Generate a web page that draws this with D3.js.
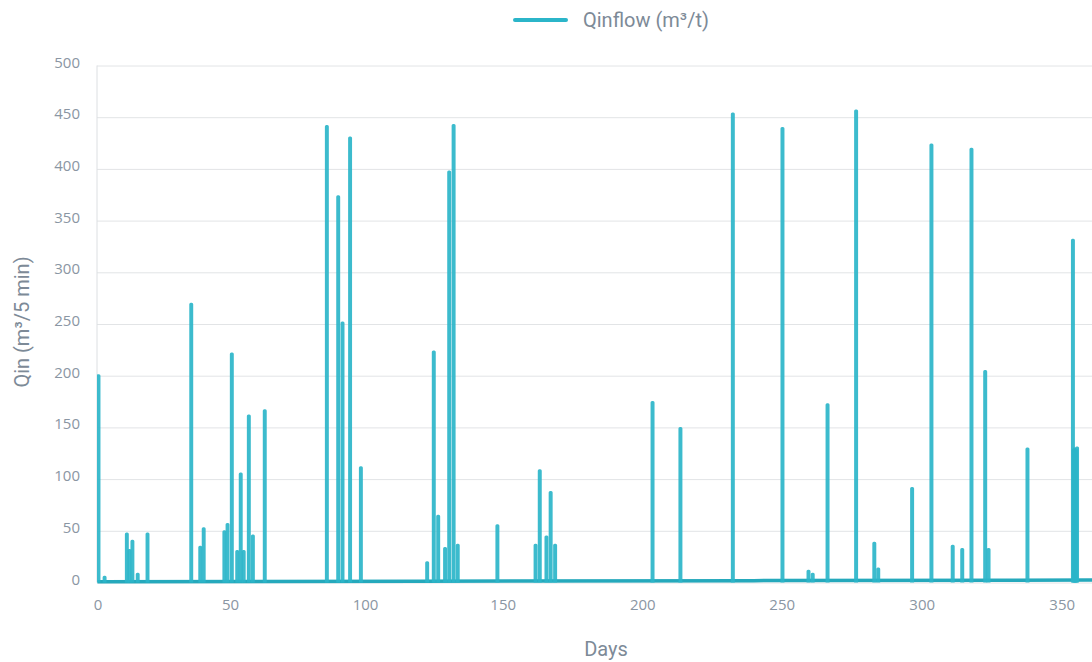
<!DOCTYPE html>
<html>
<head>
<meta charset="utf-8">
<script src="https://cdn.jsdelivr.net/npm/d3@7"></script>
<style>
  body { margin: 0; background: #fff; }
  .tick text { font-family: "Open Sans", sans-serif; font-size: 15px; fill: #8a96a3; }
  .title { font-family: Roboto, sans-serif; font-size: 20px; fill: #7d8a97; }
</style>
</head>
<body>
<div id="chart"></div>
<script>
// Qinflow spikes: day and peak (m3 / 5 min)
const spikeDays = [
  0.2, 2.5, 10.9, 11.9, 13.0, 15.0, 18.7, 35.2, 38.6, 39.9, 47.7, 48.9,
  50.5, 52.5, 53.8, 54.9, 56.8, 58.3, 62.7, 85.7, 89.9, 91.5, 94.3, 98.3,
  122.4, 124.8, 126.4, 128.9, 130.4, 132.0, 133.5, 147.9,
  161.6, 163.1, 165.5, 167.0, 168.6, 203.5, 213.5, 232.3,
  250.1, 259.4, 260.9, 266.2, 276.4, 282.9, 284.3, 296.4,
  303.3, 310.9, 314.3, 317.6, 322.5, 323.7, 337.6,
  353.9, 354.2, 354.5, 354.8, 355.1, 355.4
]
const spikePeaks = [
  200, 5, 47, 31, 40, 8, 47, 269, 34, 52, 49, 56,
  221, 30, 105, 30, 161, 45, 166, 441, 373, 251, 430, 111,
  19, 223, 64, 33, 397, 442, 36, 55,
  36, 108, 44, 87, 36, 174, 149, 453,
  439, 11, 8, 172, 456, 38, 13, 91,
  423, 35, 32, 419, 204, 32, 129,
  331, 128, 129, 127, 128, 130
]
// slowly rising base flow
const baseDays = [0, 120, 240, 361]
const baseLevels = [0.8, 1.2, 1.8, 2.4]

const dayTicks = [0, 50, 100, 150, 200, 250, 300, 350]
const qinTicks = [0, 50, 100, 150, 200, 250, 300, 350, 400, 450, 500]

const width = 1092
const height = 662
const plotLeft = 97
const plotTop = 65.5
const plotBottom = 582.5
const color = '#2bb5c9'

const svg = d3.select('#chart')
  .append('svg')
  .attr('width', width)
  .attr('height', height)

// day axis is not evenly spaced in the source, so pin the tick positions
const xScale = d3.scaleLinear()
  .domain([0, 50, 100, 150, 200, 250, 300, 350, 361])
  .range([97.5, 230, 365, 502.7, 642.3, 781.7, 921.7, 1061.7, 1092])
const yScale = d3.scaleLinear()
  .domain([0, 500])
  .range([plotBottom, plotTop])

// Grid
svg.append('g')
  .attr('transform', `translate(${plotLeft}, 0)`)
  .call(d3.axisLeft(yScale).tickValues(qinTicks).tickSize(-(width - plotLeft)).tickFormat(''))
  .call(g => g.select('.domain').remove())
  .call(g => g.selectAll('line').attr('stroke', '#e2e4e6'))
svg.append('line')
  .attr('x1', plotLeft).attr('x2', plotLeft)
  .attr('y1', plotTop).attr('y2', plotBottom)
  .attr('stroke', '#dcdfe2')

// Axes
svg.append('g')
  .attr('transform', `translate(${plotLeft}, 0)`)
  .call(d3.axisLeft(yScale).tickValues(qinTicks).tickSize(0).tickPadding(17))
  .call(g => g.select('.domain').remove())
  .call(g => g.selectAll('text').attr('dy', '0.1em'))
svg.append('g')
  .attr('transform', `translate(0, ${plotBottom})`)
  .call(d3.axisBottom(xScale).tickValues(dayTicks).tickSize(0).tickPadding(17))
  .call(g => g.select('.domain').remove())

// Lines
svg.append('clipPath').attr('id', 'plot')
  .append('rect')
  .attr('x', plotLeft).attr('y', 0)
  .attr('width', width - plotLeft).attr('height', plotBottom + 3)

const line = d3.line()
  .x(d => xScale(d[0]))
  .y(d => yScale(d[1]))

const plot = svg.append('g').attr('clip-path', 'url(#plot)')

plot.append('path')
  .datum(baseDays.map((d, i) => [d, baseLevels[i]]))
  .attr('d', line)
  .attr('fill', 'none')
  .attr('stroke', '#25a9bc')
  .attr('stroke-width', 3.5)

plot.selectAll('.spike')
  .data(spikeDays.map((d, i) => [d, spikePeaks[i]]))
  .enter()
  .append('path')
  .attr('class', 'spike')
  .attr('d', s => line([[s[0], 0], [s[0], s[1]], [s[0] + 0.35, s[1]], [s[0] + 0.35, 0]]))
  .attr('fill', 'none')
  .attr('stroke', color)
  .attr('stroke-opacity', 0.92)
  .attr('stroke-width', 3)
  .attr('stroke-linejoin', 'round')

// Titles
svg.append('text')
  .attr('class', 'title')
  .attr('x', 606).attr('y', 656)
  .attr('text-anchor', 'middle')
  .text('Days')
svg.append('text')
  .attr('class', 'title')
  .attr('transform', 'translate(29, 322) rotate(-90)')
  .attr('text-anchor', 'middle')
  .text('Qin (m³/5 min)')

// Legend
svg.append('line')
  .attr('x1', 515).attr('x2', 566)
  .attr('y1', 20).attr('y2', 20)
  .attr('stroke', color)
  .attr('stroke-width', 4)
  .attr('stroke-linecap', 'round')
svg.append('text')
  .attr('class', 'title')
  .attr('x', 583).attr('y', 27)
  .text('Qinflow (m³/t)')
</script>
</body>
</html>
